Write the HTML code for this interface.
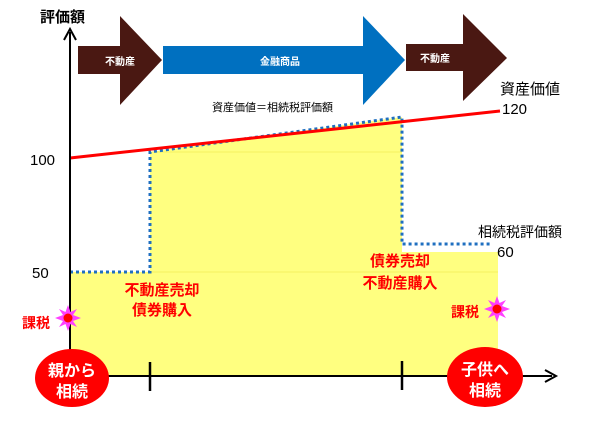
<!DOCTYPE html>
<html><head><meta charset="utf-8"><style>
html,body{margin:0;padding:0;background:#fff;}
svg text{font-family:"Liberation Sans","Noto Sans CJK JP",sans-serif;}
</style></head><body>
<svg width="600" height="418" viewBox="0 0 600 418" xmlns="http://www.w3.org/2000/svg">
<polygon points="70,272 150,272 150,152 402,117 402,252 498,252 498,376 70,376" fill="#ffff80"/>
<line x1="150" y1="272" x2="498" y2="272" stroke="#f4f060" stroke-width="1"/>
<line x1="150" y1="152" x2="402" y2="152" stroke="#f4f060" stroke-width="1"/>
<polyline points="70,272 150,272 150,152 402,117 402,244 492,244" fill="none" stroke="#1f6fc0" stroke-width="3" stroke-dasharray="3,3"/>
<line x1="70" y1="158" x2="500" y2="111" stroke="#ff0000" stroke-width="3"/>
<line x1="70" y1="376" x2="70" y2="32" stroke="#000" stroke-width="2"/>
<polyline points="64,40 70,29 76,40" fill="none" stroke="#000" stroke-width="2"/>
<line x1="70" y1="376" x2="552" y2="376" stroke="#000" stroke-width="2"/>
<polyline points="545,370 556,376 545,382" fill="none" stroke="#000" stroke-width="2"/>
<line x1="150" y1="362" x2="150" y2="391" stroke="#000" stroke-width="2.5"/>
<line x1="402" y1="361" x2="402" y2="390" stroke="#000" stroke-width="2.5"/>
<polygon points="78,46 120,46 120,16 162,60 120,105 120,74 78,74" fill="#4a1812"/>
<polygon points="163,46 363,46 363,16 405,60 363,105 363,74 163,74" fill="#0070c0"/>
<polygon points="406,44 463,44 463,14 507,58 463,101 463,71 406,71" fill="#4a1812"/>
<text x="120" y="65" fill="#fff" font-size="10" font-weight="bold" text-anchor="middle">不動産</text>
<text x="280" y="65" fill="#fff" font-size="10" font-weight="bold" text-anchor="middle">金融商品</text>
<text x="435" y="62" fill="#fff" font-size="10" font-weight="bold" text-anchor="middle">不動産</text>
<text x="40" y="22" font-size="15" font-weight="bold">評価額</text>
<text x="30" y="165" font-size="15">100</text>
<text x="32" y="278" font-size="15">50</text>
<text x="212" y="111" font-size="11">資産価値＝相続税評価額</text>
<text x="500" y="94" font-size="15">資産価値</text>
<text x="502" y="114" font-size="15">120</text>
<text x="478" y="237" font-size="14">相続税評価額</text>
<text x="497" y="257" font-size="15">60</text>
<g fill="#ff0000" font-size="15" font-weight="bold" text-anchor="middle">
<text x="162" y="295">不動産売却</text>
<text x="162" y="315">債券購入</text>
<text x="400" y="266">債券売却</text>
<text x="400" y="288">不動産購入</text>
</g>
<g fill="#ff0000" font-size="14" font-weight="bold">
<text x="22" y="328">課税</text>
<text x="451" y="317">課税</text>
</g>
<g fill="#ff40ff">
<polygon points="68,305 70.5,312 77,309 73,315 81,318 73,321 77,327 70.5,324 68,331 65.5,324 59,327 63,321 55,318 63,315 59,309 65.5,312"/>
<polygon points="497,296 499.5,303 506,300 502,306 510,309 502,312 506,318 499.5,315 497,322 494.5,315 488,318 492,312 484,309 492,306 488,300 494.5,303"/>
</g>
<circle cx="68" cy="318" r="4.5" fill="#ff0000"/>
<circle cx="497" cy="309" r="4.5" fill="#ff0000"/>
<ellipse cx="72" cy="378" rx="37" ry="29" fill="#ff0000"/>
<ellipse cx="485" cy="377" rx="38" ry="30" fill="#ff0000"/>
<g fill="#fff" font-size="16" font-weight="bold" text-anchor="middle">
<text x="72" y="376">親から</text>
<text x="72" y="397">相続</text>
<text x="485" y="375">子供へ</text>
<text x="485" y="396">相続</text>
</g>
</svg>
</body></html>
